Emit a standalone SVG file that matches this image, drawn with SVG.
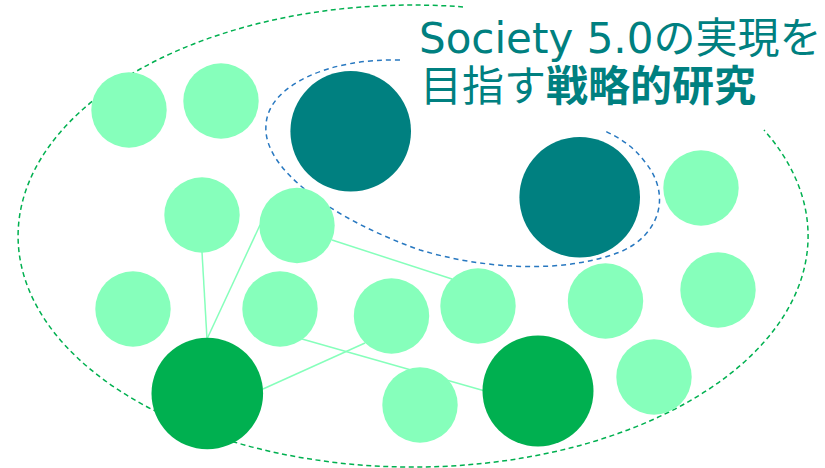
<svg xmlns="http://www.w3.org/2000/svg" width="825" height="468" viewBox="0 0 825 468">
<style>
.lt{fill:#86FFBB}
.dg{fill:#00B050}
.tl{fill:#008080}
.conn line{stroke:#86FFBB;stroke-width:1.5}
.oval{fill:none;stroke:#00B050;stroke-width:1.5;stroke-dasharray:5 3.5}
.blue{fill:none;stroke:#2878C0;stroke-width:1.5;stroke-dasharray:5 4}
.ttl{font-family:"DejaVu Sans","Noto Sans CJK JP",sans-serif;font-size:42px;fill:#008080}
</style>
<rect width="825" height="468" fill="#ffffff"/>
<g id="outer-boundary">
<path class="oval" d="M 463 6.9 A 395 231 0 1 0 764 130"/>
</g>
<g id="strategic-boundary">
<path class="blue" d="M 400 60 C 330 58, 268 85, 266 125 C 262 170, 335 220, 420 250 C 480 268, 560 275, 620 252 C 660 235, 672 195, 645 162 C 633 146, 620 138, 603 130"/>
</g>
<g id="connectors" class="conn">
<line x1="202" y1="252" x2="207" y2="339"/>
<line x1="207" y1="339" x2="260" y2="225"/>
<line x1="332" y1="240" x2="452" y2="279"/>
<line x1="302" y1="339" x2="485" y2="391"/>
<line x1="263" y1="389" x2="365" y2="343"/>
</g>
<g id="n1"><circle class="lt" cx="129" cy="110" r="37.7"/></g>
<g id="n2"><circle class="lt" cx="221" cy="101" r="37.7"/></g>
<g id="n3"><circle class="lt" cx="202" cy="215" r="37.7"/></g>
<g id="n4"><circle class="lt" cx="297" cy="225.5" r="37.7"/></g>
<g id="n5"><circle class="lt" cx="133" cy="309" r="37.7"/></g>
<g id="n6"><circle class="lt" cx="280" cy="309" r="37.7"/></g>
<g id="n7"><circle class="lt" cx="391.5" cy="316" r="37.7"/></g>
<g id="n8"><circle class="lt" cx="478" cy="306" r="37.7"/></g>
<g id="n9"><circle class="lt" cx="420" cy="405" r="37.7"/></g>
<g id="n10"><circle class="lt" cx="701" cy="188" r="37.7"/></g>
<g id="n11"><circle class="lt" cx="605.5" cy="301" r="37.7"/></g>
<g id="n12"><circle class="lt" cx="718" cy="290" r="37.7"/></g>
<g id="n13"><circle class="lt" cx="654" cy="377" r="37.7"/></g>
<g id="hub1"><circle class="dg" cx="207.3" cy="393.5" r="55.8"/></g>
<g id="hub2"><circle class="dg" cx="538" cy="391" r="55.5"/></g>
<g id="strategic1"><circle class="tl" cx="350.7" cy="131.3" r="60.3"/></g>
<g id="strategic2"><circle class="tl" cx="579.7" cy="197.3" r="60.3"/></g>
<g id="title">
<text class="ttl" x="419" y="53">Society 5.0の実現を</text>
<text class="ttl" x="420" y="101">目指す<tspan font-weight="bold">戦略的研究</tspan></text>
</g>
</svg>
